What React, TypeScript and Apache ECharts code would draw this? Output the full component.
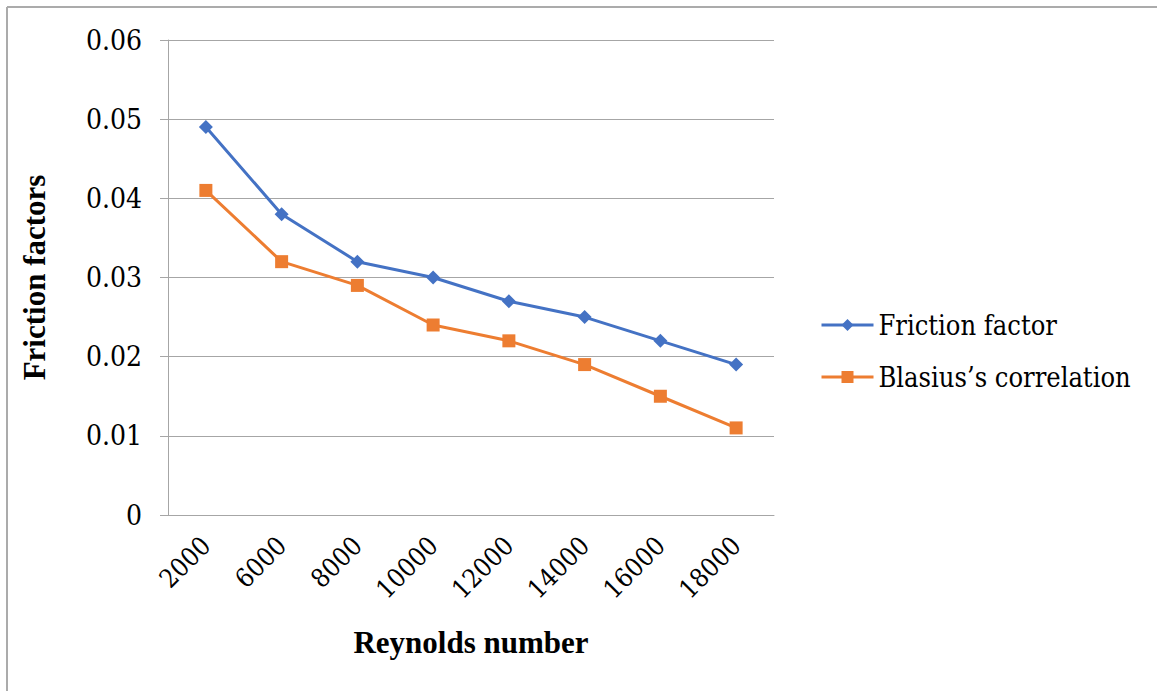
import React, { useEffect, useRef } from "react";
import * as echarts from "echarts";

const categories = ["2000", "6000", "8000", "10000", "12000", "14000", "16000", "18000"];
const frictionFactor = [0.049, 0.038, 0.032, 0.03, 0.027, 0.025, 0.022, 0.019];
const blasius = [0.041, 0.032, 0.029, 0.024, 0.022, 0.019, 0.015, 0.011];
const yTicks = { min: 0, max: 0.06, interval: 0.01 };

const FONT = "Liberation Serif";
const RFONT = "DejaVu Serif Condensed, DejaVu Serif, serif";
const GRAY = "#A6A6A6";

export default function App() {
  const ref = useRef<HTMLDivElement>(null);
  useEffect(() => {
    if (!ref.current) return;
    const chart = echarts.init(ref.current, undefined, { renderer: "svg" });
    chart.setOption({
      animation: false,
      backgroundColor: "#ffffff",
      textStyle: { fontFamily: RFONT, color: "#000" },
      graphic: [
        { type: "line", shape: { x1: 7, y1: 7, x2: 1157, y2: 7 }, style: { stroke: "#ABABAB", lineWidth: 2 } },
        { type: "line", shape: { x1: 7, y1: 7, x2: 7, y2: 691 }, style: { stroke: "#ABABAB", lineWidth: 2 } },
      ],
      grid: { left: 168, top: 40, right: 383, bottom: 176, containLabel: false },
      legend: {
        orient: "vertical",
        left: 815,
        top: 306,
        itemWidth: 52,
        itemHeight: 15,
        itemGap: 24,
        lineStyle: { width: 3 },
        textStyle: { fontFamily: RFONT, fontSize: 27, color: "#000", lineHeight: 28 },
        data: ["Friction factor", "Blasius\u2019s correlation"],
      },
      xAxis: {
        type: "category",
        data: categories,
        boundaryGap: true,
        axisLine: { show: true, lineStyle: { color: GRAY, width: 1 } },
        axisTick: { show: false },
        axisLabel: { rotate: 45, margin: 26, fontFamily: RFONT, fontSize: 26, color: "#000" },
        name: "Reynolds number",
        nameLocation: "middle",
        nameGap: 112,
        nameTextStyle: { fontFamily: FONT, fontSize: 31, fontWeight: "bold", color: "#000" },
      },
      yAxis: {
        type: "value",
        min: yTicks.min,
        max: yTicks.max,
        interval: yTicks.interval,
        axisLine: { show: true, lineStyle: { color: GRAY, width: 1 } },
        axisTick: { show: true, length: 8, lineStyle: { color: GRAY } },
        splitLine: { show: true, lineStyle: { color: GRAY, width: 1 } },
        axisLabel: { margin: 26, fontFamily: RFONT, fontSize: 28, color: "#000" },
        name: "Friction factors",
        nameLocation: "middle",
        nameGap: 118,
        nameTextStyle: { fontFamily: FONT, fontSize: 31, fontWeight: "bold", color: "#000" },
      },
      series: [
        {
          name: "Friction factor",
          type: "line",
          data: frictionFactor,
          symbol: "diamond",
          symbolSize: 14,
          lineStyle: { color: "#4472C4", width: 3 },
          itemStyle: { color: "#4472C4" },
        },
        {
          name: "Blasius\u2019s correlation",
          type: "line",
          data: blasius,
          symbol: "rect",
          symbolSize: 13,
          lineStyle: { color: "#ED7D31", width: 3 },
          itemStyle: { color: "#ED7D31" },
        },
      ],
    });
    return () => chart.dispose();
  }, []);
  return (
    <div
      ref={ref}
      style={{ position: "fixed", left: 0, top: 0, width: 1157, height: 691 }}
    />
  );
}
